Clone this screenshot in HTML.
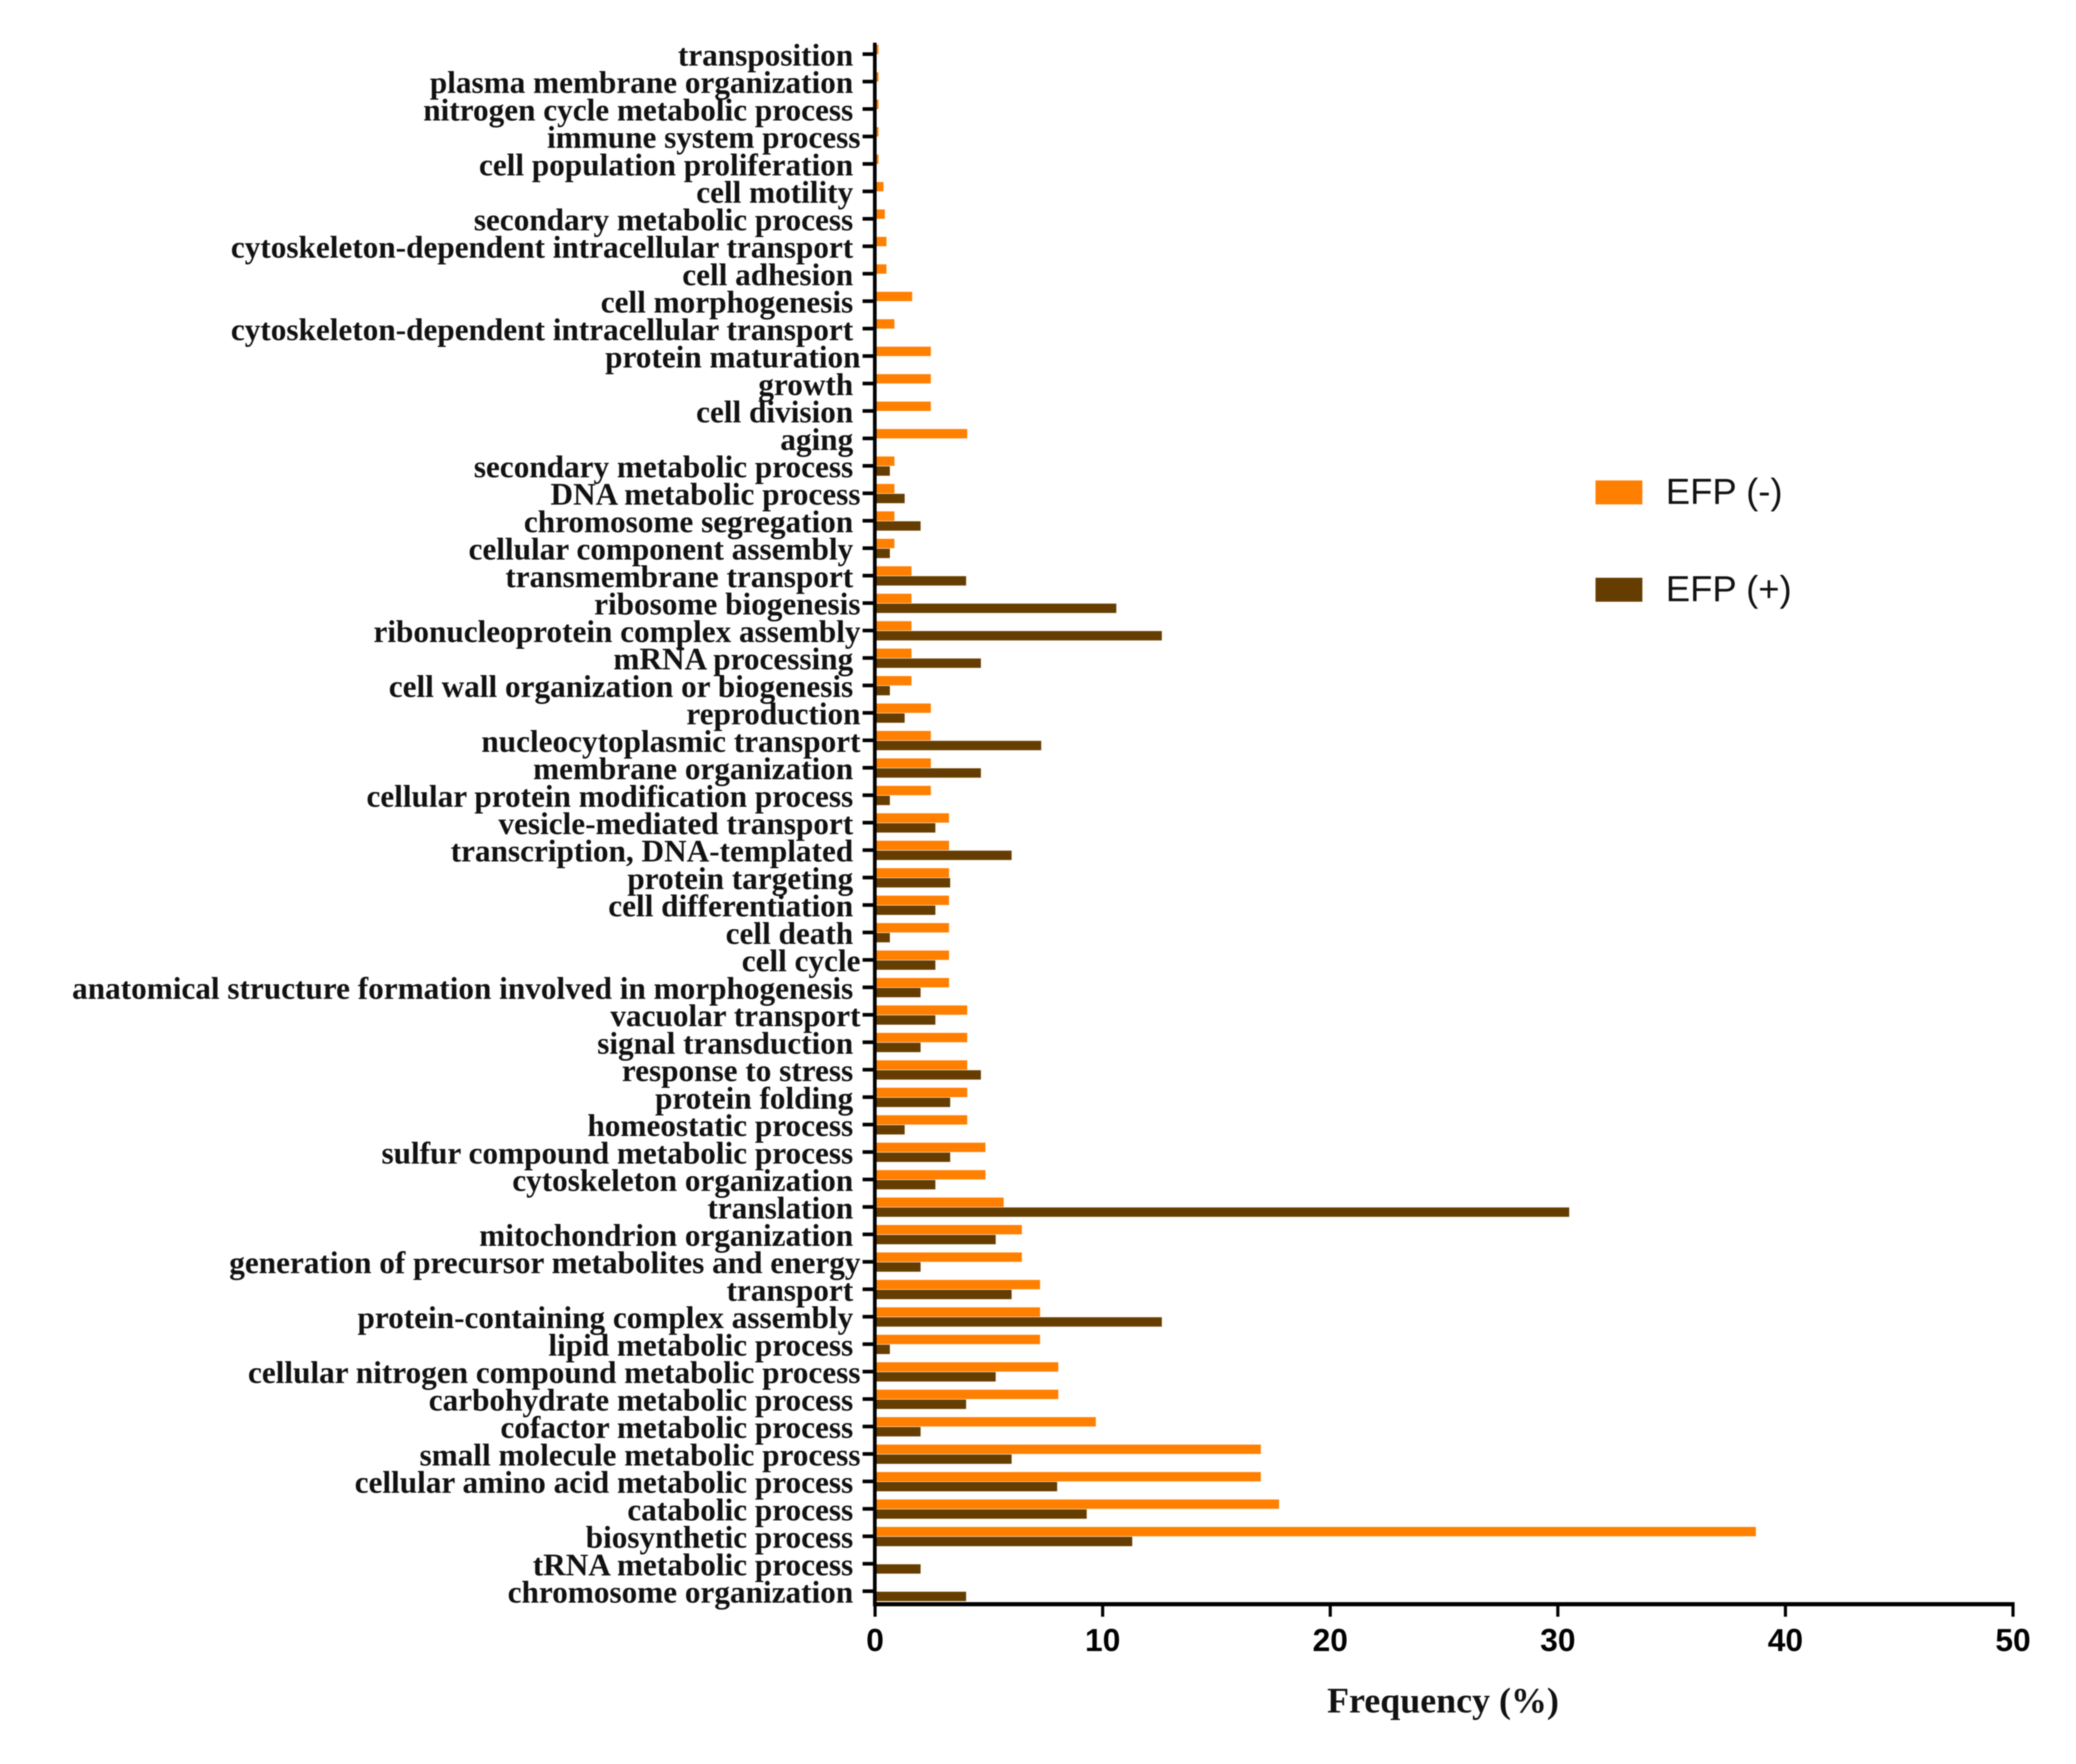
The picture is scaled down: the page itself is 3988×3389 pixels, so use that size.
<!DOCTYPE html>
<html lang="en">
<head>
<meta charset="utf-8">
<title>GO term frequency chart</title>
<style>
  html, body { margin: 0; padding: 0; background: #ffffff; }
  #chart { display: block; width: 3988px; height: 3389px; background: #ffffff; filter: blur(1px); }
  .cat { font-family: "Liberation Serif", serif; font-weight: 700; font-size: 60px; fill: #111; text-anchor: end; }
  .xt { font-family: "Liberation Sans", sans-serif; font-weight: 700; font-size: 61px; fill: #000; text-anchor: middle; }
  .title { font-family: "Liberation Serif", serif; font-weight: 700; font-size: 69px; fill: #111; text-anchor: middle; }
  .leg { font-family: "Liberation Sans", sans-serif; font-weight: 400; font-size: 70px; fill: #111; }
</style>
</head>
<body>
<svg id="chart" xmlns="http://www.w3.org/2000/svg" width="3988" height="3389" viewBox="0 0 3988 3389">
  <g id="bars-neg"></g>
  <g id="bars-pos"></g>
  <g id="y-axis"></g>
  <g id="x-axis"></g>
  <text class="title" x="2772" y="3290">Frequency (%)</text>
  <g>
    <g>
      <rect x="3065" y="923" width="90" height="46" fill="#ff7f00"></rect>
      <text class="leg" x="3200" y="968">EFP (-)</text>
    </g>
    <g>
      <rect x="3065" y="1110" width="90" height="46" fill="#663d00"></rect>
      <text class="leg" x="3200" y="1155">EFP (+)</text>
    </g>
  </g>
</svg>
<script>
const categories = [
  "transposition","plasma membrane organization","nitrogen cycle metabolic process","immune system process",
  "cell population proliferation","cell motility","secondary metabolic process","cytoskeleton-dependent intracellular transport",
  "cell adhesion","cell morphogenesis","cytoskeleton-dependent intracellular transport","protein maturation",
  "growth","cell division","aging","secondary metabolic process","DNA metabolic process","chromosome segregation",
  "cellular component assembly","transmembrane transport","ribosome biogenesis","ribonucleoprotein complex assembly",
  "mRNA processing","cell wall organization or biogenesis","reproduction","nucleocytoplasmic transport",
  "membrane organization","cellular protein modification process","vesicle-mediated transport","transcription, DNA-templated",
  "protein targeting","cell differentiation","cell death","cell cycle","anatomical structure formation involved in morphogenesis",
  "vacuolar transport","signal transduction","response to stress","protein folding","homeostatic process",
  "sulfur compound metabolic process","cytoskeleton organization","translation","mitochondrion organization",
  "generation of precursor metabolites and energy","transport","protein-containing complex assembly","lipid metabolic process",
  "cellular nitrogen compound metabolic process","carbohydrate metabolic process","cofactor metabolic process",
  "small molecule metabolic process","cellular amino acid metabolic process","catabolic process","biosynthetic process",
  "tRNA metabolic process","chromosome organization"
];
const efpNegative = [
  0.15,0.15,0.15,0.15,0.15,0.37,0.43,0.5,0.5,1.63,0.85,2.45,2.45,2.45,4.05,0.85,0.85,0.85,0.85,1.6,
  1.6,1.6,1.6,1.6,2.45,2.45,2.45,2.45,3.25,3.25,3.25,3.25,3.25,3.25,3.25,4.05,4.05,4.05,4.05,4.05,
  4.85,4.85,5.65,6.45,6.45,7.25,7.25,7.25,8.05,8.05,9.7,16.95,16.95,17.75,38.7,0,0
];
const efpPositive = [
  0,0,0,0,0,0,0,0,0,0,0,0,0,0,0,0.65,1.3,2.0,0.65,4.0,
  10.6,12.6,4.65,0.65,1.3,7.3,4.65,0.65,2.65,6.0,3.3,2.65,0.65,2.65,2.0,2.65,2.0,4.65,3.3,1.3,
  3.3,2.65,30.5,5.3,2.0,6.0,12.6,0.65,5.3,4.0,2.0,6.0,8.0,9.3,11.3,2.0,4.0
];
const xTicks = [0,10,20,30,40,50];
const flushLabels = [
  "immune system process","protein maturation","DNA metabolic process","ribosome biogenesis",
  "ribonucleoprotein complex assembly","reproduction","nucleocytoplasmic transport","cell cycle",
  "vacuolar transport","generation of precursor metabolites and energy",
  "cellular nitrogen compound metabolic process","small molecule metabolic process"
];

const SVGNS = "http://www.w3.org/2000/svg";
const X0 = 1681, X50 = 3867, Y0 = 104, Y56 = 3057, XMAX = 50;
function xScale(v) { return X0 + (v / XMAX) * (X50 - X0); }
function yScale(i) { return Y0 + (i / (categories.length - 1)) * (Y56 - Y0); }
function slug(s) { return s.toLowerCase().replace(/[^a-z0-9]+/g, "-"); }
function make(tag, attrs, parent) {
  const el = document.createElementNS(SVGNS, tag);
  for (const k in attrs) el.setAttribute(k, attrs[k]);
  parent.appendChild(el);
  return el;
}

const barsNeg = document.getElementById("bars-neg");
const barsPos = document.getElementById("bars-pos");
const yAxis = document.getElementById("y-axis");
const xAxis = document.getElementById("x-axis");
const BAR_H = 18;

categories.forEach(function (name, i) {
  const yc = yScale(i);
  const tick = make("rect", { x: 1657, y: yc - 3.5, width: 24, height: 7, fill: "#000" }, yAxis);
  
  
  const t = make("text", { "class": "cat", x: flushLabels.indexOf(name) >= 0 ? 1653 : 1639, y: yc + 22 }, yAxis);
  
  
  t.textContent = name;
  if (efpNegative[i] > 0) {
    const r = make("rect", { x: X0, y: yc - BAR_H, width: xScale(efpNegative[i]) - X0, height: BAR_H, fill: "#ff7f00" }, barsNeg);
    
    
  }
  if (efpPositive[i] > 0) {
    const r = make("rect", { x: X0, y: yc + 1, width: xScale(efpPositive[i]) - X0, height: BAR_H, fill: "#663d00" }, barsPos);
    
    
  }
});

const yLine = make("rect", { x: 1677, y: 82, width: 7, height: 3004, fill: "#000" }, yAxis);



const xLine = make("rect", { x: 1677, y: 3078, width: 2193, height: 8, fill: "#000" }, xAxis);



xTicks.forEach(function (v) {
  const xp = xScale(v);
  const tk = make("rect", { x: xp - 3, y: 3082, width: 6, height: 24, fill: "#000" }, xAxis);
  
  
  const lb = make("text", { "class": "xt", x: xp, y: 3172 }, xAxis);
  
  
  lb.textContent = String(v);
});
</script>
</body>
</html>
